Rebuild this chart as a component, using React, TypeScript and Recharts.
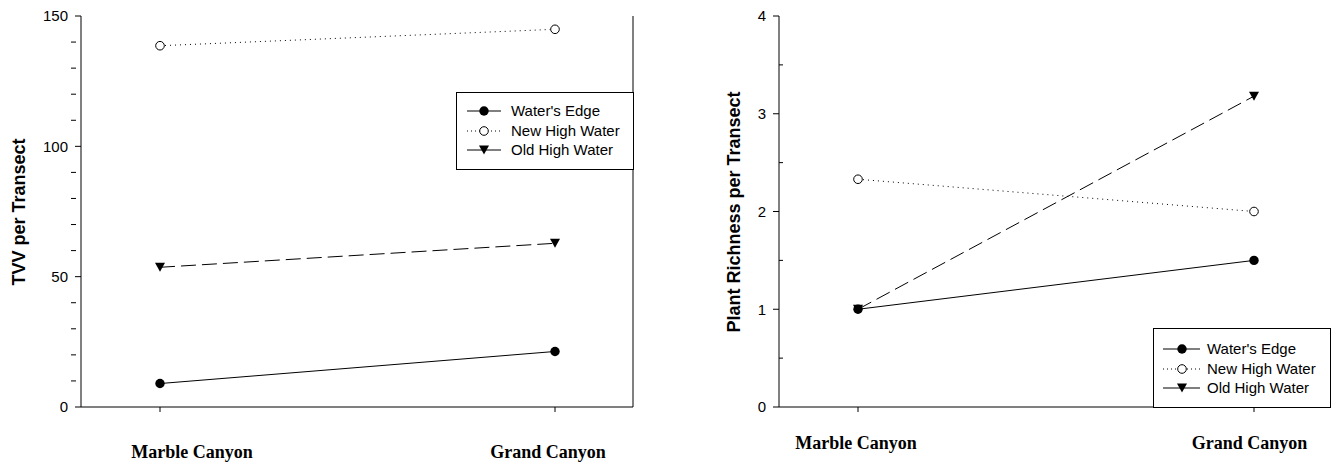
import React from 'react';
import { LineChart, Line, XAxis, YAxis, Legend, Label } from 'recharts';

const categories = ['Marble Canyon', 'Grand Canyon'];
const seriesNames = ["Water's Edge", 'New High Water', 'Old High Water'];

const tvvWatersEdge = [9.0, 21.3];
const tvvNewHighWater = [138.6, 144.9];
const tvvOldHighWater = [53.6, 62.8];

const richWatersEdge = [1.0, 1.5];
const richNewHighWater = [2.33, 2.0];
const richOldHighWater = [1.0, 3.18];

const tvvTicks = [0, 10, 20, 30, 40, 50, 60, 70, 80, 90, 100, 110, 120, 130, 140, 150];
const tvvMajorTicks = [0, 50, 100, 150];
const richTicks = [0, 0.5, 1, 1.5, 2, 2.5, 3, 3.5, 4];
const richMajorTicks = [0, 1, 2, 3, 4];

const tvvData = categories.map((c, i) => ({
  cat: c,
  we: tvvWatersEdge[i],
  nhw: tvvNewHighWater[i],
  ohw: tvvOldHighWater[i],
}));
const richData = categories.map((c, i) => ({
  cat: c,
  we: richWatersEdge[i],
  nhw: richNewHighWater[i],
  ohw: richOldHighWater[i],
}));

const SANS = "Arial, 'Liberation Sans', sans-serif";
const SERIF = "'Times New Roman', 'Liberation Serif', serif";

const FilledCircle = ({ cx, cy }: any) => <circle cx={cx} cy={cy} r={4.7} fill="#000" />;
const OpenCircle = ({ cx, cy }: any) => (
  <circle cx={cx} cy={cy} r={4.3} fill="#fff" stroke="#000" strokeWidth={1} />
);
const TriDown = ({ cx, cy }: any) => (
  <polygon points={`${cx - 5},${cy - 4.5} ${cx + 5},${cy - 4.5} ${cx},${cy + 4.5}`} fill="#000" />
);

const markers = [FilledCircle, OpenCircle, TriDown];
const legendDash = [undefined, '1 3', undefined];

const makeXTick = (dxs: number[], baseline: number) => (props: any) => {
  const { x, y, payload, index } = props;
  return (
    <g>
      <line x1={x} y1={y} x2={x} y2={y + 5} stroke="#000" strokeWidth={1} />
      <text
        x={x + dxs[index]}
        y={y + baseline}
        textAnchor="middle"
        fontFamily={SERIF}
        fontWeight="bold"
        fontSize={18}
        fill="#000"
      >
        {payload.value}
      </text>
    </g>
  );
};

const makeLeftYTick = (majors: number[], minorInside: boolean) => (props: any) => {
  const { x, y, payload } = props;
  const v = payload.value;
  if (majors.includes(v)) {
    return (
      <g>
        <line x1={x - 6} y1={y} x2={x} y2={y} stroke="#000" strokeWidth={1} />
        <text x={x - 13} y={y} dy="0.36em" textAnchor="end" fontFamily={SANS} fontSize={15} fill="#000">
          {v}
        </text>
      </g>
    );
  }
  return minorInside ? (
    <line x1={x} y1={y} x2={x + 4} y2={y} stroke="#000" strokeWidth={1} />
  ) : (
    <line x1={x - 10} y1={y} x2={x - 5} y2={y} stroke="#000" strokeWidth={1} />
  );
};

const rightYTick = (props: any) => {
  const { x, y } = props;
  return <line x1={x - 4} y1={y} x2={x} y2={y} stroke="#000" strokeWidth={1} />;
};

const LegendBox = ({ width, height, rowYs, sx1, sx2, mx, tx }: any) => (
  <svg width={width} height={height} style={{ display: 'block' }}>
    <rect x={0.5} y={0.5} width={width - 1} height={height - 1} fill="#fff" stroke="#000" strokeWidth={1} />
    {seriesNames.map((name, i) => {
      const M = markers[i];
      const yy = rowYs[i];
      return (
        <g key={name}>
          <line x1={sx1} y1={yy} x2={sx2} y2={yy} stroke="#000" strokeWidth={1} strokeDasharray={legendDash[i]} />
          <M cx={mx} cy={yy} />
          <text x={tx} y={yy} dy="0.36em" fontFamily={SANS} fontSize={15} fill="#000">
            {name}
          </text>
        </g>
      );
    })}
  </svg>
);

const YTitle = ({ x, y, text }: any) => (
  <text
    x={x}
    y={y}
    transform={`rotate(-90, ${x}, ${y})`}
    textAnchor="middle"
    dominantBaseline="central"
    fontFamily={SANS}
    fontWeight="bold"
    fontSize={18}
    fill="#000"
  >
    {text}
  </text>
);

const renderSeries = (prefix: string) => [
  <Line
    key="ohw"
    dataKey="ohw"
    name={seriesNames[2]}
    stroke="#000"
    strokeWidth={1}
    strokeDasharray="15 6"
    isAnimationActive={false}
    dot={(p: any) => <TriDown key={`${prefix}-ohw-${p.index}`} cx={p.cx} cy={p.cy} />}
    activeDot={false}
  />,
  <Line
    key="nhw"
    dataKey="nhw"
    name={seriesNames[1]}
    stroke="#000"
    strokeWidth={1}
    strokeDasharray="1 4"
    isAnimationActive={false}
    dot={(p: any) => <OpenCircle key={`${prefix}-nhw-${p.index}`} cx={p.cx} cy={p.cy} />}
    activeDot={false}
  />,
  <Line
    key="we"
    dataKey="we"
    name={seriesNames[0]}
    stroke="#000"
    strokeWidth={1}
    isAnimationActive={false}
    dot={(p: any) => <FilledCircle key={`${prefix}-we-${p.index}`} cx={p.cx} cy={p.cy} />}
    activeDot={false}
  />,
];

const TvvChart = () => (
  <LineChart width={660} height={466} data={tvvData} margin={{ top: 16, right: 0, bottom: 0, left: 0 }}>
    <XAxis
      dataKey="cat"
      height={59}
      padding={{ left: 79, right: 78 }}
      interval={0}
      tickSize={0}
      tickMargin={0}
      tickLine={false}
      axisLine={{ stroke: '#000', strokeWidth: 1 }}
      tick={makeXTick([32, -7], 51)}
    />
    <XAxis
      xAxisId="top"
      orientation="top"
      dataKey="cat"
      height={0}
      padding={{ left: 79, right: 78 }}
      tick={false}
      tickLine={false}
      axisLine={{ stroke: '#000', strokeWidth: 1 }}
    />
    <YAxis
      type="number"
      domain={[0, 150]}
      ticks={tvvTicks}
      interval={0}
      width={81}
      tickSize={0}
      tickMargin={0}
      tickLine={false}
      axisLine={{ stroke: '#000', strokeWidth: 1 }}
      tick={makeLeftYTick(tvvMajorTicks, false)}
    >
      <Label content={() => <YTitle x={19} y={212} text="TVV per Transect" />} />
    </YAxis>
    <YAxis
      yAxisId="r"
      orientation="right"
      type="number"
      domain={[0, 150]}
      ticks={tvvTicks}
      interval={0}
      width={27}
      tickSize={0}
      tickMargin={0}
      tickLine={false}
      axisLine={{ stroke: '#000', strokeWidth: 1 }}
      tick={rightYTick}
    />
    {renderSeries('tvv')}
    <Legend
      layout="vertical"
      align="center"
      verticalAlign="middle"
      wrapperStyle={{ left: 456, top: 92, width: 178, height: 78 }}
      content={() => (
        <LegendBox width={178} height={78} rowYs={[19, 39, 58]} sx1={11} sx2={45} mx={28} tx={55} />
      )}
    />
  </LineChart>
);

const RichChart = () => (
  <LineChart width={700} height={466} data={richData} margin={{ top: 16, right: 0, bottom: 0, left: 0 }}>
    <XAxis
      dataKey="cat"
      height={59}
      padding={{ left: 79, right: 78 }}
      interval={0}
      tickSize={0}
      tickMargin={0}
      tickLine={false}
      axisLine={{ stroke: '#000', strokeWidth: 1 }}
      tick={makeXTick([-2, -4.5], 42)}
    />
    <XAxis
      xAxisId="top"
      orientation="top"
      dataKey="cat"
      height={0}
      padding={{ left: 79, right: 78 }}
      tick={false}
      tickLine={false}
      axisLine={{ stroke: '#000', strokeWidth: 1 }}
    />
    <YAxis
      type="number"
      domain={[0, 4]}
      ticks={richTicks}
      interval={0}
      width={139}
      tickSize={0}
      tickMargin={0}
      tickLine={false}
      axisLine={{ stroke: '#000', strokeWidth: 1 }}
      tick={makeLeftYTick(richMajorTicks, true)}
    >
      <Label content={() => <YTitle x={94} y={212} text="Plant Richness per Transect" />} />
    </YAxis>
    <YAxis
      yAxisId="r"
      orientation="right"
      type="number"
      domain={[0, 4]}
      ticks={richTicks}
      interval={0}
      width={8}
      tickSize={0}
      tickMargin={0}
      tickLine={false}
      axisLine={{ stroke: '#000', strokeWidth: 1 }}
      tick={rightYTick}
    />
    {renderSeries('rich')}
    <Legend
      layout="vertical"
      align="center"
      verticalAlign="middle"
      wrapperStyle={{ left: 513, top: 328, width: 178, height: 80 }}
      content={() => (
        <LegendBox width={178} height={80} rowYs={[21, 41, 60]} sx1={10} sx2={47} mx={29} tx={54} />
      )}
    />
  </LineChart>
);

export default function App() {
  return (
    <div
      style={{
        position: 'absolute',
        left: 0,
        top: 0,
        width: 1331,
        height: 466,
        overflow: 'hidden',
        background: '#fff',
      }}
    >
      <div style={{ position: 'absolute', left: 0, top: 0 }}>
        <TvvChart />
      </div>
      <div style={{ position: 'absolute', left: 640, top: 0 }}>
        <RichChart />
      </div>
    </div>
  );
}
